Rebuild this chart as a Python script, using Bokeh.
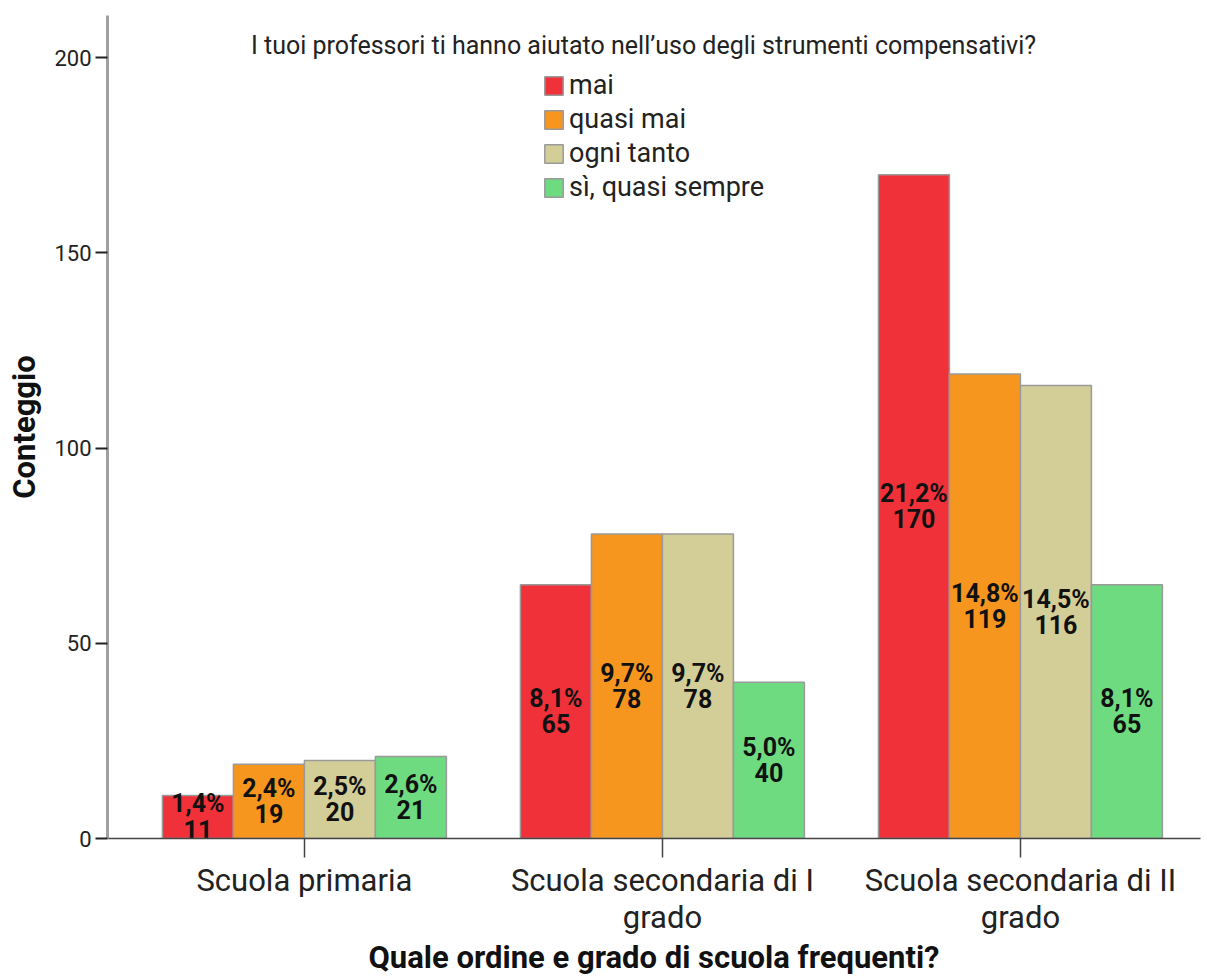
from bokeh.plotting import figure
from bokeh.models import ColumnDataSource, Label, Legend, LegendItem, FixedTicker, Range1d
from bokeh.core.properties import value
from bokeh.embed import file_html
from bokeh.resources import INLINE

categories = ["Scuola primaria", "Scuola secondaria di I\ngrado", "Scuola secondaria di II\ngrado"]
series = ["mai", "quasi mai", "ogni tanto", "sì, quasi sempre"]
colors = ["#F0313A", "#F7961F", "#D3CE97", "#6EDB80"]
counts = {
    "mai": [11, 65, 170],
    "quasi mai": [19, 78, 119],
    "ogni tanto": [20, 78, 116],
    "sì, quasi sempre": [21, 40, 65],
}
percents = {
    "mai": ["1,4%", "8,1%", "21,2%"],
    "quasi mai": ["2,4%", "9,7%", "14,8%"],
    "ogni tanto": ["2,5%", "9,7%", "14,5%"],
    "sì, quasi sempre": ["2,6%", "5,0%", "8,1%"],
}
y_ticks = [0, 50, 100, 150, 200]
legend_title = "I tuoi professori ti hanno aiutato nell\u2019uso degli strumenti compensativi?"
x_title = "Quale ordine e grado di scuola frequenti?"
y_title = "Conteggio"

bar_w = 0.1983
centers = [0, 1, 2]

p = figure(width=1207, height=978, output_backend="svg", toolbar_location=None,
           x_range=Range1d(-0.55, 2.503), y_range=Range1d(0, 210.8),
           min_border_left=107, min_border_top=15, min_border_bottom=140, min_border_right=7)
p.outline_line_color = None
p.xgrid.visible = False
p.ygrid.visible = False
p.background_fill_color = "white"

items = []
for i, s in enumerate(series):
    off = (i - 1.5) * bar_w
    xs = [c + off for c in centers]
    ys = counts[s]
    src = ColumnDataSource(dict(x=xs, top=ys, mid=[v / 2 for v in ys],
                                lab=[f"{pc}\n{v}" for pc, v in zip(percents[s], ys)]))
    r = p.vbar(x="x", top="top", bottom=0, width=bar_w, source=src, fill_color=colors[i],
               line_color="#9a9a9a", line_width=1.5)
    p.text(x="x", y="mid", text="lab", source=src, text_align="center", text_baseline="middle",
           text_font=value("Roboto"), text_font_style="bold", text_font_size="25px",
           text_color="#111111", text_line_height=0.9)
    items.append(LegendItem(label=s, renderers=[r]))

legend = Legend(items=items, location=(435, 635), orientation="vertical",
                glyph_width=23, glyph_height=23, label_height=23, spacing=2, padding=0, margin=0,
                label_standoff=4, label_text_font="Roboto", label_text_font_size="27px",
                label_text_color="#222222", border_line_alpha=0, background_fill_alpha=0)
p.add_layout(legend)

p.add_layout(Label(x=536, y=793, x_units="screen", y_units="screen", text=legend_title,
                   text_align="center", text_baseline="middle", text_font="Roboto",
                   text_font_size="25px", text_color="#222222"))

# axes
p.xaxis.ticker = FixedTicker(ticks=centers)
p.xaxis.major_label_overrides = {c: lab for c, lab in zip(centers, categories)}
p.xaxis.major_label_text_font = "Roboto"
p.xaxis.major_label_text_font_size = "31px"
p.xaxis.major_label_text_color = "#222222"
p.xaxis.major_label_text_line_height = 1.0
p.xaxis.major_label_standoff = 4
p.xaxis.major_tick_out = 19
p.xaxis.major_tick_in = 0
p.xaxis.minor_tick_line_color = None
p.xaxis.axis_line_color = "#444444"
p.xaxis.axis_line_width = 1.5
p.xaxis.major_tick_line_color = "#444444"
p.xaxis.major_tick_line_width = 1.5
p.xaxis.axis_label = x_title
p.xaxis.axis_label_text_font = "Roboto"
p.xaxis.axis_label_text_font_style = "bold"
p.xaxis.axis_label_text_font_size = "31px"
p.xaxis.axis_label_text_color = "#111111"
p.xaxis.axis_label_standoff = 0

p.yaxis.ticker = FixedTicker(ticks=y_ticks)
p.yaxis.major_label_text_font = "Roboto"
p.yaxis.major_label_text_font_size = "22px"
p.yaxis.major_label_text_color = "#222222"
p.yaxis.major_tick_out = 12
p.yaxis.major_tick_in = 0
p.yaxis.major_tick_line_color = "#222222"
p.yaxis.major_tick_line_width = 2
p.yaxis.minor_tick_line_color = None
p.yaxis.axis_line_color = "#a0a0a0"
p.yaxis.axis_line_width = 3
p.yaxis.major_label_standoff = 4
p.yaxis.axis_label = y_title
p.yaxis.axis_label_text_font = "Roboto"
p.yaxis.axis_label_text_font_style = "bold"
p.yaxis.axis_label_text_font_size = "31px"
p.yaxis.axis_label_text_color = "#111111"
p.yaxis.axis_label_standoff = 8

open("out.html", "w").write(file_html(p, INLINE))
